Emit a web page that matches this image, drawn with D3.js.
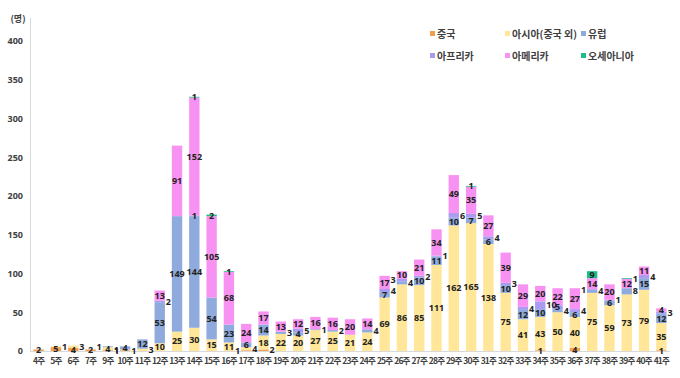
<!DOCTYPE html>
<html><head><meta charset="utf-8">
<script src="https://cdn.jsdelivr.net/npm/d3@7"></script>
<style>body{margin:0;background:#fff;} text{font-family:"Noto Sans CJK KR","Noto Sans",sans-serif;}</style>
</head><body><svg id="c" width="680" height="378"></svg>
<script>
const weeks = ["4주","5주","6주","7주","9주","10주","11주","12주","13주","14주","15주","16주","17주","18주","19주","20주","21주","22주","23주","24주","25주","26주","27주","28주","29주","30주","31주","32주","33주","34주","35주","36주","37주","38주","39주","40주","41주"];
const china   = [2,5,4,2,1,1,0,0,0,0,0,0,1,2,0,0,0,0,0,0,0,0,0,0,0,0,0,0,0,1,0,4,0,0,0,0,1];
const asia    = [0,1,3,0,4,1,3,10,25,30,15,11,4,18,22,20,27,25,21,24,69,86,85,111,162,165,138,75,41,43,50,40,75,59,73,79,35];
const europe  = [0,0,0,0,1,4,12,53,149,144,54,23,6,14,3,4,1,2,0,4,7,4,10,11,10,7,6,10,12,10,4,6,4,6,8,15,12];
const africa  = [0,0,0,0,0,0,0,2,0,1,0,0,0,0,0,5,0,0,0,0,4,3,2,1,6,5,4,3,4,10,5,4,1,1,0,4,3];
const america = [0,0,0,0,0,0,0,13,91,152,105,68,24,17,13,12,16,16,20,14,17,10,21,34,49,35,27,39,29,20,22,27,14,20,12,11,4];
const oceania = [0,0,0,0,0,0,0,0,0,1,2,1,0,0,0,0,0,0,0,0,0,0,0,0,0,1,0,0,0,0,0,0,9,0,1,0,0];
const seriesNames = ["중국","아시아(중국 외)","유럽","아프리카","아메리카","오세아니아"];
const seriesColors = ["#F59D4E","#FFE699","#8FAADC","#A99CF0","#F892F2","#1BBE88"];
const yTicks = [0,50,100,150,200,250,300,350,400];
const unitLabel = "(명)";

const seriesData = [china, asia, europe, africa, america, oceania];
const rows = weeks.map((w,i)=>{const r={week:w}; seriesNames.forEach((n,k)=>r[n]=seriesData[k][i]); return r;});
const stack = d3.stack().keys(seriesNames)(rows);

const svg = d3.select("#c");
svg.append("rect").attr("width",680).attr("height",378).attr("fill","#fff");
const x = d3.scaleBand().domain(weeks).range([30,670]).paddingInner(0.4).paddingOuter(0.2);
const y = d3.scaleLinear().domain([0,400]).range([351,41]);

svg.append("line").attr("x1",30.5).attr("x2",30.5).attr("y1",18).attr("y2",351).attr("stroke","#d9d9d9");
svg.append("line").attr("x1",30).attr("x2",670).attr("y1",351.5).attr("y2",351.5).attr("stroke","#d9d9d9");

const yAxis = svg.append("g").attr("transform","translate(30,0)")
  .call(d3.axisLeft(y).tickValues(yTicks).tickSize(0).tickPadding(7));
yAxis.select(".domain").remove();
yAxis.selectAll("text").attr("font-size",9).attr("font-weight","bold").attr("fill","#404040")
  .style("font-family","'Noto Sans',sans-serif");

svg.append("text").attr("x",18).attr("y",22).attr("text-anchor","middle").attr("font-size",9)
  .attr("font-weight","bold").attr("fill","#404040").text(unitLabel);

const xAxis = svg.append("g").attr("transform","translate(0,351)")
  .call(d3.axisBottom(x).tickSize(0).tickPadding(7));
xAxis.select(".domain").remove();
xAxis.selectAll("text").attr("font-size",8.5).attr("font-weight","bold").attr("fill","#404040")
  .attr("letter-spacing","-0.8");

const groups = svg.append("g").selectAll("g").data(stack).join("g")
  .attr("fill",(d,i)=>seriesColors[i]);
groups.selectAll("rect").data(d=>d.map(v=>({v,key:d.key}))).join("rect")
  .attr("x",d=>x(d.v.data.week)).attr("width",x.bandwidth())
  .attr("y",d=>y(d.v[1])).attr("height",d=>y(d.v[0])-y(d.v[1]));

// labels: bigger segments first, small ones nudged aside when they would collide
const lab = svg.append("g");
weeks.forEach((w,i)=>{
  const cx = x(w)+x.bandwidth()/2, bw = x.bandwidth();
  const segs = stack.map(s=>({v:s[i], val:s[i][1]-s[i][0]})).filter(d=>d.val>0)
    .sort((a,b)=>b.val-a.val);
  const placed = [];
  segs.forEach(d=>{
    const cy = (y(d.v[0])+y(d.v[1]))/2;
    const tw = String(d.val).length*5;
    const cands = [[cx,cy],[cx+bw/2+1+tw/2,cy],[cx-bw/2-1-tw/2,cy],[cx,cy-8],[cx+bw/2+1+tw/2,cy-8]];
    let pos = cands[cands.length-1];
    for(const c of cands){
      if(!placed.some(p=>Math.abs(p.y-c[1])<8 && Math.abs(p.x-c[0])<(p.w+tw)/2)){ pos=c; break; }
    }
    placed.push({x:pos[0], y:pos[1], w:tw});
    lab.append("text").attr("x",pos[0]).attr("y",pos[1]).attr("dy","0.35em")
      .attr("text-anchor","middle").attr("font-size",9).attr("font-weight","bold")
      .attr("fill","#222").style("font-family","'Noto Sans',sans-serif").text(d.val);
  });
});

const legPos = [[433,34],[508,34],[584,34],[433,56],[508,56],[584,56]];
seriesNames.forEach((n,i)=>{
  const [lx,ly]=legPos[i];
  svg.append("rect").attr("x",lx-3).attr("y",ly-3).attr("width",5).attr("height",5).attr("fill",seriesColors[i]);
  svg.append("text").attr("x",lx+4).attr("y",ly).attr("dy","0.35em").attr("font-size",10)
    .attr("font-weight","bold").attr("fill","#404040").text(n);
});
</script></body></html>
